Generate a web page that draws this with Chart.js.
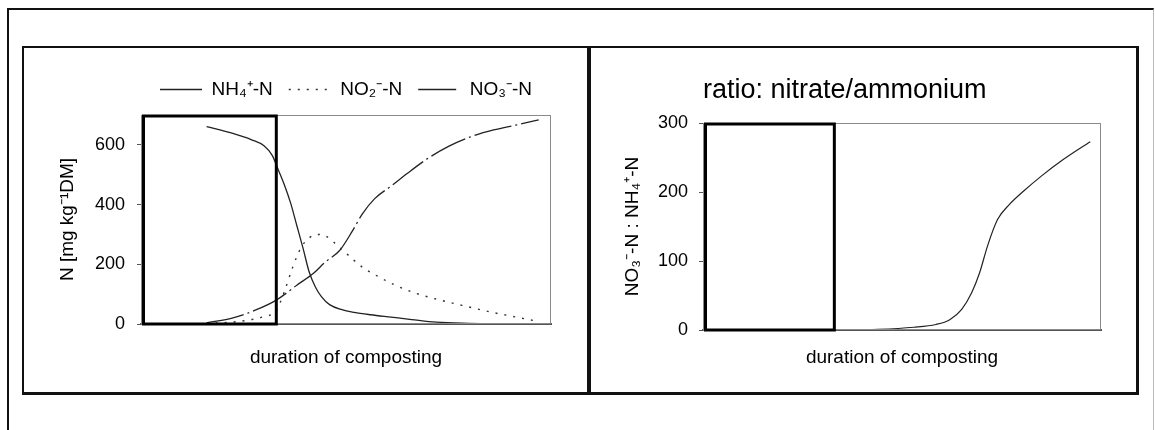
<!DOCTYPE html>
<html>
<head>
<meta charset="utf-8">
<title>Nitrogen forms during composting</title>
<script src="https://cdn.jsdelivr.net/npm/chart.js@4.4.1/dist/chart.umd.min.js"></script>
<style>
  html, body { margin: 0; padding: 0; background: #fff; }
  body { width: 1155px; height: 430px; position: relative; overflow: hidden; }
  .frame { position: absolute; left: 7px; top: 8px; width: 1144px; height: 440px;
           border-top: 2px solid #111; border-left: 2px solid #111; border-right: 1px solid #bbb; }
  .panel { position: absolute; top: 46px; height: 344px; border-top: 2px solid #111; border-bottom: 3px solid #111; }
  #panelLeft { left: 22px; width: 563px; border-left: 2px solid #111; border-right: 4px solid #111; }
  #panelRight { left: 591px; width: 545px; border-right: 3px solid #111; }
  canvas { position: absolute; }
  #nChart { left: 25px; top: 48px; }
  #ratioChart { left: 594px; top: 48px; }
</style>
</head>
<body>
<div class="frame"></div>
<div class="panel" id="panelLeft"></div>
<div class="panel" id="panelRight"></div>
<canvas id="nChart" width="564" height="344"></canvas>
<canvas id="ratioChart" width="543" height="344"></canvas>

<script>
// ================================
// DATA (x = relative duration 0..100)
// ================================
const markedPhase = [0, 33];

const nh4X = [16, 22, 27, 30, 32, 33.5, 35, 36.5, 38, 39.5, 41, 42.5, 44, 46, 49, 52, 56, 61, 66, 72, 80, 90, 100];
const nh4Y = [661, 640, 617, 597, 565, 516, 465, 405, 330, 255, 175, 125, 92, 65, 48, 39, 31, 23, 15, 6, 2, 0, 0];

const no2X = [16, 22, 27, 30, 33, 35, 37, 39, 41, 43, 45, 48, 51, 54, 58, 62, 67, 73, 80, 86, 92, 97];
const no2Y = [2, 6, 15, 25, 45, 110, 190, 255, 288, 300, 295, 262, 225, 190, 158, 130, 103, 80, 57, 38, 22, 8];

const no3X = [16, 22, 28, 33, 38, 42, 45, 48.5, 51.5, 54, 57, 61, 65, 70, 75, 80, 86, 92, 97];
const no3Y = [4, 19, 47, 80, 130, 169, 208, 247, 310, 369, 420, 462, 505, 555, 595, 625, 650, 668, 684];

const ratioX = [33, 44, 53, 58.5, 62, 65, 67.5, 69.5, 71.5, 74, 77, 80.5, 85, 90.5, 97.3];
const ratioY = [0, 1, 4, 8, 15, 30, 54, 83, 122, 160, 182, 201, 223, 247, 273];

const nTicks = [0, 200, 400, 600];
const ratioTicks = [0, 100, 200, 300];

// ================================
// HELPERS
// ================================
const toPoints = (xs, ys) => xs.map((x, i) => ({ x: x, y: ys[i] }));

Chart.defaults.font.family = "'Liberation Sans', Arial, sans-serif";
Chart.defaults.color = '#000';

// thin plot frame + the heavy outlined box over the first phase
const frameBox = {
    id: 'frameBox',
    afterDraw(chart) {
        const { ctx, chartArea: a, scales: { x } } = chart;
        ctx.save();
        ctx.strokeStyle = '#8a8a8a';
        ctx.lineWidth = 1;
        ctx.strokeRect(a.left + 0.5, a.top + 0.5, a.width - 1, a.height - 1);

        const x0 = x.getPixelForValue(markedPhase[0]);
        const x1 = x.getPixelForValue(markedPhase[1]);
        ctx.strokeStyle = '#000';
        ctx.lineWidth = 3;
        ctx.strokeRect(x0 + 2.5, a.top + 1, x1 - x0 - 2.5, a.height - 1);
        ctx.restore();
    }
};

function xAxis(height) {
    return {
        type: 'linear',
        min: 0,
        max: 100,
        ticks: { display: false },
        grid: { display: false },
        border: { display: true, color: '#555', width: 2 },
        title: { display: true, text: 'duration of composting', font: { size: 19 }, padding: 0 },
        afterFit: axis => { axis.height = height; }
    };
}

function yAxis(max, tickValues, width, titleText, titlePad, tickPad) {
    return {
        min: 0,
        max: max,
        ticks: { stepSize: tickValues[1] - tickValues[0], font: { size: 18 }, padding: tickPad },
        afterBuildTicks: axis => { axis.ticks = tickValues.map(v => ({ value: v })); },
        grid: { display: true, drawOnChartArea: false, drawTicks: true, tickLength: 4, color: '#555' },
        border: { display: true, color: '#777', width: 1 },
        title: { display: true, text: titleText, font: { size: 19 }, padding: { top: titlePad, bottom: 0 } },
        afterFit: axis => { axis.width = width; }
    };
}

// ================================
// LEFT: N forms
// ================================
new Chart(document.getElementById('nChart'), {
    type: 'line',
    data: {
        datasets: [
            { label: 'NH₄⁺-N', data: toPoints(nh4X, nh4Y), borderColor: '#222', borderWidth: 1.3 },
            { label: 'NO₂⁻-N', data: toPoints(no2X, no2Y), borderColor: '#333', borderWidth: 1.4, borderDash: [2, 7] },
            { label: 'NO₃⁻-N', data: toPoints(no3X, no3Y), borderColor: '#222', borderWidth: 1.3, borderDash: [38, 4, 2, 4] }
        ]
    },
    options: {
        responsive: false,
        animation: false,
        devicePixelRatio: 1,
        elements: { point: { radius: 0 }, line: { cubicInterpolationMode: 'monotone' } },
        layout: { padding: { top: 16, right: 38, bottom: 22.6, left: 0 } },
        scales: {
            x: xAxis(45.4),
            y: yAxis(700, nTicks, 116, 'N [mg kg⁻¹DM]', 31.6, 12)
        },
        plugins: {
            legend: {
                display: true,
                position: 'top',
                fullSize: false,
                labels: {
                    usePointStyle: true,
                    pointStyle: 'line',
                    pointStyleWidth: 42,
                    padding: 16,
                    font: { size: 19 },
                    color: '#000',
                    // keep the dash pattern of each series in its legend sample
                    generateLabels: chart => Chart.defaults.plugins.legend.labels.generateLabels(chart).map((item, i) => {
                        const ds = chart.data.datasets[i];
                        item.lineDash = ds.borderDash || [];
                        item.lineWidth = ds.borderWidth;
                        item.strokeStyle = ds.borderColor;
                        item.pointStyle = 'line';
                        return item;
                    })
                }
            },
            // empty spacer between legend and plot
            title: { display: true, text: '', weight: 100, fullSize: false, padding: 0, font: { size: 5 } },
            tooltip: { enabled: false }
        }
    },
    plugins: [frameBox]
});

// ================================
// RIGHT: nitrate / ammonium ratio
// ================================
new Chart(document.getElementById('ratioChart'), {
    type: 'line',
    data: {
        datasets: [
            { label: 'ratio', data: toPoints(ratioX, ratioY), borderColor: '#222', borderWidth: 1.2 }
        ]
    },
    options: {
        responsive: false,
        animation: false,
        devicePixelRatio: 1,
        elements: { point: { radius: 0 }, line: { cubicInterpolationMode: 'monotone' } },
        layout: { padding: { top: 0, right: 36, bottom: 22.6, left: 0 } },
        scales: {
            x: xAxis(39.4),
            y: yAxis(300, ratioTicks, 109, 'NO₃⁻-N : NH₄⁺-N', 27.6, 11)
        },
        plugins: {
            legend: { display: false },
            title: {
                display: true,
                text: 'ratio: nitrate/ammonium',
                align: 'start',
                fullSize: false,
                font: { size: 27, weight: 'normal' },
                color: '#000',
                padding: { top: 26.8, bottom: 15.8 }
            },
            tooltip: { enabled: false }
        }
    },
    plugins: [frameBox]
});
</script>
</body>
</html>
